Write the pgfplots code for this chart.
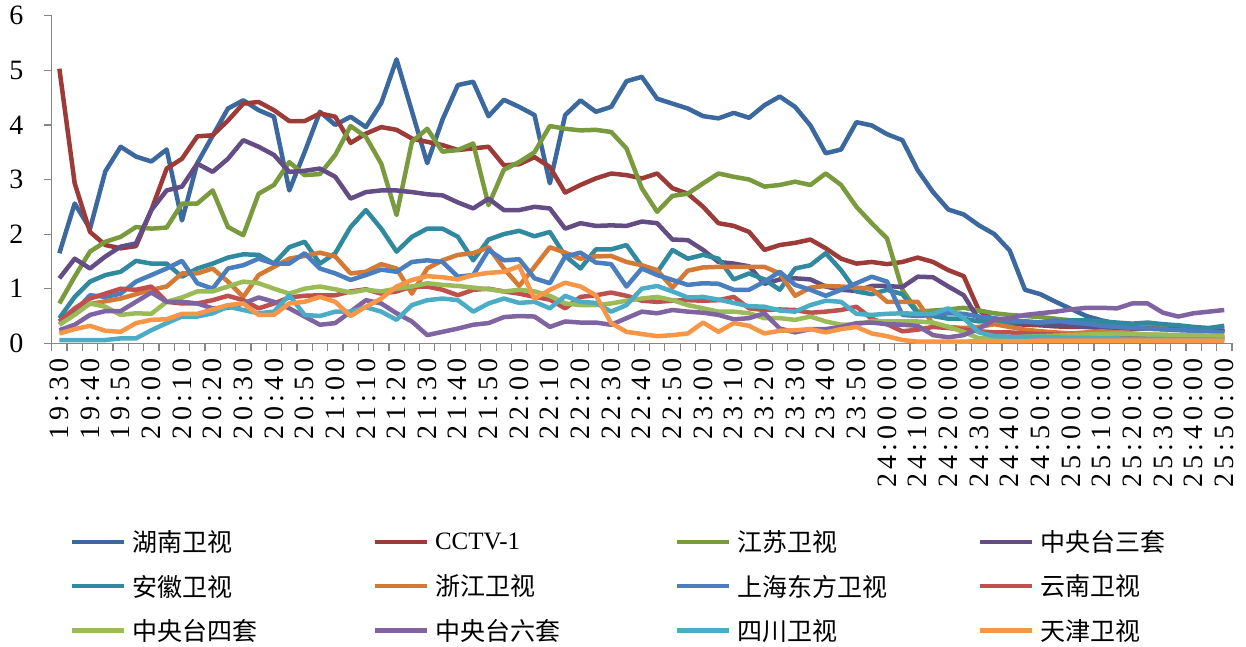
\documentclass[border=0pt]{standalone}
\usepackage{fontspec}
\setmainfont{Liberation Serif}
\newfontfamily\cjk{Noto Sans CJK SC}
\newfontfamily\tickfont[LetterSpace=15]{Liberation Serif}
\usepackage{pgfplots}
\pgfplotsset{compat=1.18}
\usepackage{pgfplotstable}
\definecolor{axgray}{HTML}{868686}
\definecolor{chn}{HTML}{3B689E}
\definecolor{ccc}{HTML}{9C3B37}
\definecolor{cjs}{HTML}{7A9A3E}
\definecolor{cs3}{HTML}{644D85}
\definecolor{cah}{HTML}{3189A0}
\definecolor{czj}{HTML}{D47A34}
\definecolor{csh}{HTML}{4A7EBE}
\definecolor{cyn}{HTML}{C0504D}
\definecolor{cs4}{HTML}{9BBB59}
\definecolor{cs6}{HTML}{8064A2}
\definecolor{csc}{HTML}{4BACC6}
\definecolor{ctj}{HTML}{F79646}
\pgfplotstableread{
i hn cc js s3 ah zj sh yn s4 s6 sc tj
0 1.65 5.03 0.73 1.19 0.46 0.4 0.34 0.4 0.34 0.24 0.06 0.18
1 2.56 2.93 1.22 1.55 0.85 0.6 0.58 0.64 0.52 0.34 0.06 0.26
2 2.1 2.04 1.68 1.37 1.13 0.72 0.88 0.82 0.73 0.52 0.06 0.32
3 3.15 1.8 1.86 1.59 1.25 0.77 0.85 0.91 0.67 0.59 0.06 0.23
4 3.6 1.74 1.95 1.77 1.31 0.82 0.91 1.0 0.52 0.59 0.09 0.21
5 3.42 1.78 2.13 1.83 1.51 0.9 1.13 0.98 0.55 0.76 0.09 0.37
6 3.33 2.44 2.1 2.44 1.46 0.98 1.25 1.04 0.54 0.93 0.24 0.43
7 3.55 3.2 2.12 2.8 1.46 1.04 1.37 0.76 0.76 0.76 0.37 0.44
8 2.25 3.38 2.56 2.87 1.22 1.28 1.51 0.73 0.84 0.76 0.49 0.54
9 3.3 3.79 2.56 3.29 1.37 1.28 1.1 0.73 0.95 0.73 0.49 0.54
10 3.8 3.81 2.8 3.14 1.46 1.37 1.0 0.79 0.95 0.64 0.55 0.62
11 4.3 4.08 2.13 3.38 1.57 1.13 1.37 0.87 1.04 0.65 0.67 0.7
12 4.45 4.39 1.98 3.72 1.63 0.85 1.43 0.79 1.13 0.73 0.61 0.73
13 4.27 4.42 2.74 3.6 1.62 1.25 1.55 0.64 1.1 0.84 0.55 0.52
14 4.15 4.27 2.9 3.45 1.46 1.4 1.46 0.73 1.0 0.76 0.58 0.52
15 2.8 4.07 3.32 3.14 1.76 1.55 1.46 0.84 0.91 0.64 0.88 0.73
16 3.5 4.07 3.08 3.16 1.86 1.6 1.65 0.87 1.0 0.49 0.52 0.76
17 4.24 4.21 3.1 3.2 1.46 1.66 1.37 0.88 1.04 0.34 0.5 0.85
18 4.0 4.15 3.45 3.05 1.65 1.59 1.28 0.88 0.99 0.37 0.58 0.76
19 4.15 3.67 3.98 2.65 2.13 1.28 1.16 0.95 0.93 0.58 0.58 0.5
20 3.96 3.84 3.78 2.77 2.44 1.31 1.25 0.99 0.98 0.79 0.66 0.67
21 4.4 3.96 3.29 2.8 2.1 1.45 1.35 0.91 0.95 0.73 0.58 0.82
22 5.2 3.91 2.35 2.8 1.68 1.37 1.31 0.95 1.0 0.55 0.43 1.04
23 4.25 3.75 3.69 2.77 1.95 0.91 1.49 1.04 1.04 0.4 0.7 1.16
24 3.3 3.69 3.93 2.73 2.1 1.37 1.52 1.04 1.1 0.15 0.79 1.23
25 4.1 3.63 3.51 2.71 2.1 1.52 1.49 0.98 1.07 0.21 0.82 1.21
26 4.73 3.54 3.54 2.58 1.95 1.62 1.22 0.88 1.05 0.27 0.79 1.17
27 4.79 3.57 3.66 2.47 1.52 1.65 1.25 0.98 1.02 0.34 0.58 1.25
28 4.16 3.6 2.53 2.65 1.9 1.76 1.71 1.0 0.99 0.37 0.73 1.29
29 4.46 3.26 3.18 2.44 2.0 1.37 1.52 0.95 0.95 0.48 0.82 1.31
30 4.33 3.28 3.32 2.44 2.06 1.05 1.54 0.91 0.98 0.5 0.74 1.41
31 4.18 3.41 3.5 2.5 1.96 1.4 1.19 0.85 0.95 0.49 0.76 0.82
32 2.93 3.23 3.98 2.47 2.04 1.76 1.1 0.8 0.87 0.3 0.64 0.98
33 4.18 2.76 3.93 2.1 1.6 1.66 1.59 0.64 0.73 0.4 0.87 1.11
34 4.45 2.9 3.9 2.2 1.37 1.55 1.66 0.85 0.7 0.38 0.76 1.04
35 4.24 3.02 3.91 2.15 1.72 1.59 1.48 0.88 0.7 0.38 0.74 0.88
36 4.33 3.11 3.87 2.16 1.72 1.6 1.45 0.93 0.73 0.34 0.58 0.37
37 4.8 3.08 3.57 2.15 1.8 1.49 1.04 0.87 0.78 0.46 0.7 0.21
38 4.88 3.02 2.84 2.23 1.41 1.43 1.37 0.78 0.82 0.58 1.0 0.17
39 4.48 3.11 2.41 2.2 1.3 1.34 1.25 0.76 0.85 0.55 1.05 0.13
40 4.39 2.84 2.7 1.9 1.71 1.02 1.16 0.78 0.79 0.61 0.95 0.15
41 4.3 2.74 2.74 1.89 1.55 1.33 1.07 0.79 0.7 0.58 0.84 0.18
42 4.16 2.5 2.93 1.71 1.62 1.39 1.1 0.78 0.64 0.56 0.85 0.38
43 4.12 2.2 3.11 1.49 1.55 1.4 1.09 0.79 0.58 0.52 0.8 0.21
44 4.22 2.15 3.05 1.46 1.17 1.4 0.98 0.85 0.58 0.44 0.74 0.37
45 4.13 2.04 3.0 1.41 1.28 1.4 0.98 0.64 0.55 0.46 0.68 0.32
46 4.36 1.71 2.87 1.09 1.17 1.4 1.13 0.61 0.46 0.55 0.67 0.18
47 4.52 1.8 2.9 1.17 0.98 1.28 1.31 0.62 0.46 0.27 0.6 0.23
48 4.33 1.84 2.96 1.19 1.37 0.87 1.07 0.61 0.43 0.2 0.58 0.24
49 3.99 1.9 2.9 1.17 1.43 1.02 0.98 0.56 0.49 0.26 0.7 0.26
50 3.48 1.74 3.11 1.04 1.65 1.05 0.87 0.58 0.4 0.26 0.78 0.2
51 3.55 1.55 2.9 0.98 1.34 1.04 0.98 0.61 0.34 0.3 0.76 0.26
52 4.05 1.46 2.5 0.96 0.95 1.02 1.1 0.67 0.34 0.37 0.54 0.3
53 3.99 1.49 2.2 1.05 0.9 1.0 1.22 0.45 0.41 0.38 0.52 0.18
54 3.83 1.45 1.92 1.05 0.98 0.76 1.13 0.35 0.4 0.35 0.54 0.13
55 3.72 1.49 0.98 1.03 0.9 0.76 0.52 0.22 0.4 0.34 0.55 0.06
56 3.17 1.57 0.58 1.22 0.55 0.76 0.5 0.25 0.4 0.32 0.54 0.03
57 2.77 1.49 0.6 1.21 0.5 0.35 0.52 0.3 0.38 0.15 0.54 0.03
58 2.45 1.34 0.62 1.04 0.45 0.3 0.55 0.28 0.3 0.11 0.64 0.03
59 2.36 1.23 0.65 0.88 0.45 0.28 0.54 0.25 0.21 0.15 0.46 0.03
60 2.16 0.6 0.6 0.43 0.4 0.3 0.49 0.22 0.09 0.27 0.2 0.04
61 2.0 0.42 0.55 0.4 0.4 0.35 0.46 0.2 0.09 0.43 0.13 0.04
62 1.7 0.36 0.52 0.38 0.38 0.3 0.42 0.2 0.1 0.46 0.12 0.04
63 0.98 0.34 0.5 0.36 0.4 0.25 0.4 0.18 0.12 0.52 0.12 0.04
64 0.9 0.33 0.48 0.35 0.38 0.22 0.38 0.17 0.13 0.55 0.12 0.05
65 0.76 0.31 0.45 0.34 0.4 0.2 0.42 0.16 0.14 0.58 0.11 0.05
66 0.63 0.3 0.42 0.32 0.42 0.18 0.38 0.15 0.15 0.62 0.1 0.05
67 0.5 0.3 0.38 0.3 0.42 0.2 0.36 0.14 0.16 0.65 0.1 0.05
68 0.42 0.28 0.35 0.3 0.4 0.22 0.32 0.14 0.17 0.65 0.09 0.05
69 0.36 0.28 0.32 0.28 0.38 0.2 0.3 0.13 0.18 0.64 0.09 0.05
70 0.33 0.27 0.3 0.28 0.36 0.18 0.28 0.12 0.17 0.73 0.08 0.05
71 0.32 0.27 0.3 0.27 0.38 0.16 0.27 0.12 0.16 0.73 0.08 0.05
72 0.3 0.26 0.28 0.26 0.35 0.15 0.26 0.11 0.16 0.56 0.08 0.05
73 0.3 0.25 0.27 0.26 0.33 0.14 0.24 0.1 0.15 0.49 0.07 0.05
74 0.28 0.24 0.25 0.25 0.3 0.13 0.23 0.1 0.15 0.55 0.07 0.05
75 0.26 0.23 0.24 0.24 0.28 0.12 0.22 0.1 0.14 0.58 0.07 0.05
76 0.22 0.22 0.22 0.23 0.32 0.12 0.2 0.1 0.14 0.61 0.06 0.05
}\datatable

\begin{document}
\begin{tikzpicture}
\begin{axis}[
  scale only axis,
  width=1180.3pt, height=327.6pt,
  xmin=-0.5, xmax=76.5, ymin=0, ymax=6,
  clip=false,
  axis x line*=bottom, axis y line*=left,
  axis line style={draw=axgray, line width=1.5pt, -},
  tick align=outside,
  major tick length=8pt,
  tick style={draw=axgray, line width=1.2pt},
  xtick={-0.5,0.5,...,76.5},
  xticklabels={},
  extra x ticks={0,2,...,76},
  extra x tick labels={19:30,19:40,19:50,20:00,20:10,20:20,20:30,20:40,20:50,21:00,21:10,21:20,21:30,21:40,21:50,22:00,22:10,22:20,22:30,22:40,22:50,23:00,23:10,23:20,23:30,23:40,23:50,24:00:00,24:10:00,24:20:00,24:30:00,24:40:00,24:50:00,25:00:00,25:10:00,25:20:00,25:30:00,25:40:00,25:50:00},
  extra x tick style={major tick length=0pt},
  xticklabel style={rotate=90, anchor=east, inner sep=0pt, font=\tickfont\fontsize{28}{28}\selectfont},
  xticklabel shift=15pt,
  ytick={0,1,2,3,4,5,6},
  yticklabels={0,1,2,3,4,5,6},
  yticklabel style={anchor=east, inner sep=0pt, font=\tickfont\fontsize{28}{28}\selectfont},
  yticklabel shift=20pt,
  legend columns=4,
  legend cell align=left,
  legend style={draw=none, fill=none, at={(axis description cs:0,0)}, anchor=north west,
    xshift=18.3pt, yshift=-187.5pt, font=\fontsize{25}{25}\selectfont,
    row sep=21.5pt, inner sep=0pt, outer sep=0pt, nodes={inner sep=0pt}},
  legend image code/.code={\draw[#1, line width=4.5pt] (0pt,0pt) -- (52pt,0pt);},
  every axis plot/.append style={line width=4.5pt, line join=round, mark=none},
]
\addplot[chn] table[x=i, y=hn] {\datatable};
\addlegendentry{\hspace{6pt}\makebox[240pt][l]{\cjk 湖南卫视}}
\addplot[ccc] table[x=i, y=cc] {\datatable};
\addlegendentry{\hspace{6pt}\makebox[240pt][l]{CCTV-1}}
\addplot[cjs] table[x=i, y=js] {\datatable};
\addlegendentry{\hspace{6pt}\makebox[240pt][l]{\cjk 江苏卫视}}
\addplot[cs3] table[x=i, y=s3] {\datatable};
\addlegendentry{\hspace{6pt}\makebox[190pt][l]{\cjk 中央台三套}}
\addplot[cah] table[x=i, y=ah] {\datatable};
\addlegendentry{\hspace{6pt}\makebox[240pt][l]{\cjk 安徽卫视}}
\addplot[czj] table[x=i, y=zj] {\datatable};
\addlegendentry{\hspace{6pt}\makebox[240pt][l]{\cjk 浙江卫视}}
\addplot[csh] table[x=i, y=sh] {\datatable};
\addlegendentry{\hspace{6pt}\makebox[240pt][l]{\cjk 上海东方卫视}}
\addplot[cyn] table[x=i, y=yn] {\datatable};
\addlegendentry{\hspace{6pt}\makebox[190pt][l]{\cjk 云南卫视}}
\addplot[cs4] table[x=i, y=s4] {\datatable};
\addlegendentry{\hspace{6pt}\makebox[240pt][l]{\cjk 中央台四套}}
\addplot[cs6] table[x=i, y=s6] {\datatable};
\addlegendentry{\hspace{6pt}\makebox[240pt][l]{\cjk 中央台六套}}
\addplot[csc] table[x=i, y=sc] {\datatable};
\addlegendentry{\hspace{6pt}\makebox[240pt][l]{\cjk 四川卫视}}
\addplot[ctj] table[x=i, y=tj] {\datatable};
\addlegendentry{\hspace{6pt}\makebox[190pt][l]{\cjk 天津卫视}}
\end{axis}
\pgfresetboundingbox
\path[use as bounding box] ([shift={(-51.7pt,-302.7pt)}]current axis.south west) rectangle ++(1246pt,646pt);
\end{tikzpicture}
\end{document}
